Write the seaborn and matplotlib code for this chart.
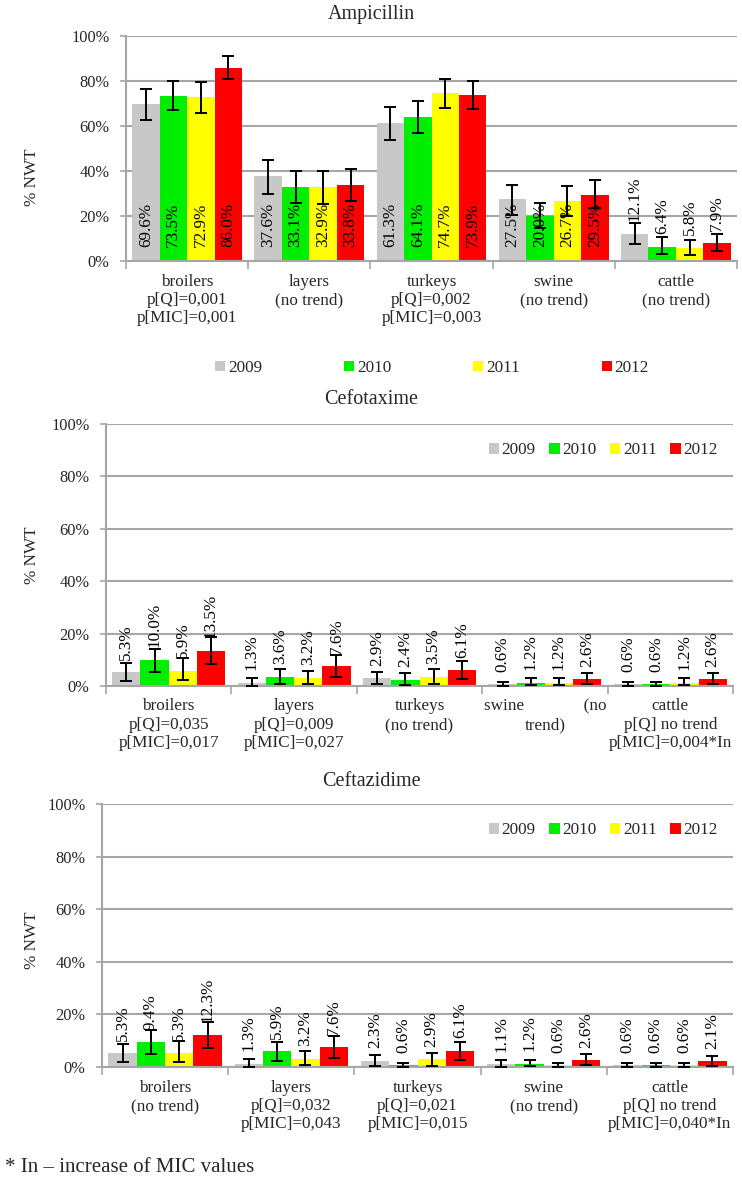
import numpy as np
import pandas as pd
import matplotlib
matplotlib.use('Agg')
import matplotlib.pyplot as plt
import seaborn as sns
from matplotlib.ticker import PercentFormatter, FixedLocator

# ---- data -------------------------------------------------------------
years = ['2009', '2010', '2011', '2012']
animals = ['broilers', 'layers', 'turkeys', 'swine', 'cattle']
year_colors = ['#C8C8C8', '#00EE00', '#FFFF00', '#FF0000']

# Ampicillin: % NWT (rows = animals, cols = years) and CI bounds
amp_values = [[69.6, 73.5, 72.9, 86.0],
              [37.6, 33.1, 32.9, 33.8],
              [61.3, 64.1, 74.7, 73.9],
              [27.5, 20.0, 26.7, 29.5],
              [12.1, 6.4, 5.8, 7.9]]
amp_low = [[62.5, 67.0, 66.0, 81.0],
           [30.0, 26.0, 25.5, 26.5],
           [54.0, 57.0, 68.0, 67.5],
           [20.5, 14.5, 20.0, 23.5],
           [7.5, 3.0, 2.5, 4.5]]
amp_high = [[76.5, 80.0, 79.5, 91.0],
            [45.0, 40.0, 40.0, 41.0],
            [68.5, 71.0, 81.0, 80.0],
            [34.0, 26.0, 33.5, 36.0],
            [17.0, 10.5, 9.5, 12.0]]
amp_ticks = ['broilers\np[Q]=0,001\np[MIC]=0,001',
             'layers\n(no trend)',
             'turkeys\np[Q]=0,002\np[MIC]=0,003',
             'swine\n(no trend)',
             'cattle\n(no trend)']

# Cefotaxime
ctx_values = [[5.3, 10.0, 5.9, 13.5],
              [1.3, 3.6, 3.2, 7.6],
              [2.9, 2.4, 3.5, 6.1],
              [0.6, 1.2, 1.2, 2.6],
              [0.6, 0.6, 1.2, 2.6]]
ctx_low = [[1.9, 5.4, 2.3, 8.4],
           [0.1, 0.9, 0.7, 3.5],
           [0.6, 0.5, 0.9, 2.8],
           [0.0, 0.2, 0.2, 0.8],
           [0.0, 0.0, 0.2, 0.8]]
ctx_high = [[8.6, 14.3, 10.5, 18.7],
            [3.0, 6.4, 5.8, 11.8],
            [5.5, 4.8, 6.4, 9.6],
            [1.6, 2.9, 2.9, 4.9],
            [1.6, 1.6, 2.9, 4.9]]
ctx_ticks = ['broilers\np[Q]=0,035\np[MIC]=0,017',
             'layers\np[Q]=0,009\np[MIC]=0,027',
             'turkeys\n(no trend)',
             'swine              (no\ntrend)',
             'cattle\np[Q] no trend\np[MIC]=0,004*In']

# Ceftazidime
ctz_values = [[5.3, 9.4, 5.3, 12.3],
              [1.3, 5.9, 3.2, 7.6],
              [2.3, 0.6, 2.9, 6.1],
              [1.1, 1.2, 0.6, 2.6],
              [0.6, 0.6, 0.6, 2.1]]
ctz_low = [[1.9, 4.8, 1.9, 7.3],
           [0.1, 2.2, 0.6, 3.5],
           [0.2, 0.0, 0.5, 2.8],
           [0.1, 0.2, 0.0, 0.8],
           [0.0, 0.0, 0.0, 0.5]]
ctz_high = [[8.6, 13.9, 9.9, 17.2],
            [3.0, 9.4, 6.0, 11.8],
            [4.6, 1.6, 5.5, 9.5],
            [2.7, 2.7, 1.6, 4.9],
            [1.6, 1.6, 1.6, 4.1]]
ctz_ticks = ['broilers\n(no trend)',
             'layers\np[Q]=0,032\np[MIC]=0,043',
             'turkeys\np[Q]=0,021\np[MIC]=0,015',
             'swine\n(no trend)',
             'cattle\np[Q] no trend\np[MIC]=0,040*In']

footnote = '* In \u2013 increase of MIC values'

# ---- style ------------------------------------------------------------
sns.set_style('white')
plt.rcParams['font.family'] = ['Liberation Serif', 'DejaVu Serif']
plt.rcParams['font.size'] = 12.3
GRID = '#A6A6A6'
W, H = 742, 1178


def to_long(values, low, high):
    rows = []
    for i, a in enumerate(animals):
        for j, y in enumerate(years):
            rows.append({'animal': a, 'year': y, 'value': values[i][j],
                         'low': low[i][j], 'high': high[i][j]})
    return pd.DataFrame(rows)


def draw_panel(fig, box, title, title_y, ylab_y, values, low, high, ticks,
               inside_labels):
    # box = (left, top, right, bottom) in pixels
    left, top, right, bottom = box
    rect = [left / W, 1 - bottom / H, (right - left) / W, (bottom - top) / H]
    ax = fig.add_axes(rect)
    df = to_long(values, low, high)
    sns.barplot(data=df, x='animal', y='value', hue='year', order=animals,
                hue_order=years, palette=year_colors, width=0.9, errorbar=None,
                saturation=1, linewidth=0, ax=ax)

    bar_conts = list(ax.containers)
    for j, cont in enumerate(bar_conts):
        for i, bar in enumerate(cont.patches):
            xc = bar.get_x() + bar.get_width() / 2
            h = bar.get_height()
            lo, hi = low[i][j], high[i][j]
            ax.errorbar(xc, h, yerr=[[h - lo], [hi - h]], fmt='none',
                        ecolor='black', elinewidth=1.4, capsize=4, capthick=1.4,
                        zorder=4)
            txt = f'{values[i][j]:.1f}%'
            if inside_labels and h > 15:
                ax.annotate(txt, (xc, 0), xytext=(0, 10), textcoords='offset points',
                            rotation=90, ha='center', va='bottom', fontsize=12.3,
                            color='black', zorder=5)
            else:
                ax.annotate(txt, (xc, h), xytext=(0, 9), textcoords='offset points',
                            rotation=90, ha='center', va='bottom', fontsize=12.3,
                            color='black', zorder=5)

    ax.set_xlim(-0.5, 4.5)
    ax.set_ylim(0, 100)
    ax.yaxis.set_major_locator(FixedLocator([0, 20, 40, 60, 80, 100]))
    ax.yaxis.set_major_formatter(PercentFormatter(decimals=0))
    ax.set_xticks(range(len(animals)))
    ax.set_xticklabels(ticks, linespacing=1.2)
    ax.set_xticks(np.arange(-0.5, 5, 1), minor=True)
    ax.tick_params(axis='x', which='major', length=0, pad=9, labelsize=12.3)
    ax.tick_params(axis='x', which='minor', length=6, width=1.2, color=GRID,
                   direction='out', bottom=True)
    ax.tick_params(axis='y', which='major', length=4, width=1.2, color=GRID,
                   direction='out', left=True, labelsize=11.8, pad=8)
    ax.yaxis.grid(True, color=GRID, linewidth=1.5)
    ax.set_axisbelow(True)
    for s in ['top', 'right']:
        ax.spines[s].set_visible(False)
    for s in ['left', 'bottom']:
        ax.spines[s].set_color(GRID)
        ax.spines[s].set_linewidth(1.5)
    ax.set_xlabel('')
    ax.set_ylabel('% NWT', fontsize=12.3, va='center')
    ax.yaxis.set_label_coords(32 / W, 1 - ylab_y / H, transform=fig.transFigure)
    fig.text(0.5, 1 - title_y / H, title, ha='center', va='center', fontsize=14.5)
    return ax


fig = plt.figure(figsize=(W / 100, H / 100), dpi=100)

ax1 = draw_panel(fig, (126, 36, 737, 261), 'Ampicillin', 14, 177,
                 amp_values, amp_low, amp_high, amp_ticks, True)
ax2 = draw_panel(fig, (106, 424, 733, 686), 'Cefotaxime', 400, 555,
                 ctx_values, ctx_low, ctx_high, ctx_ticks, False)
ax3 = draw_panel(fig, (102, 804, 733, 1067), 'Ceftazidime', 781, 940,
                 ctz_values, ctz_low, ctz_high, ctz_ticks, False)

# legends
h, l = ax1.get_legend_handles_labels()
ax1.legend(h, l, loc='center', bbox_to_anchor=(432 / W, 1 - 368 / H),
           bbox_transform=fig.transFigure, ncol=4, frameon=False,
           handlelength=0.6, handleheight=0.6, handletextpad=0.15,
           columnspacing=4.8, fontsize=12.3)
for ax in (ax2, ax3):
    h, l = ax.get_legend_handles_labels()
    ax.legend(h, l, loc='center right', bbox_to_anchor=(1.0, 0.90), ncol=4,
              frameon=False, handlelength=0.6, handleheight=0.6,
              handletextpad=0.15, columnspacing=0.8, fontsize=12.3)

fig.text(5 / W, 1 - 1167 / H, footnote, ha='left', va='center', fontsize=15)

fig.savefig('out.png', dpi=100)
